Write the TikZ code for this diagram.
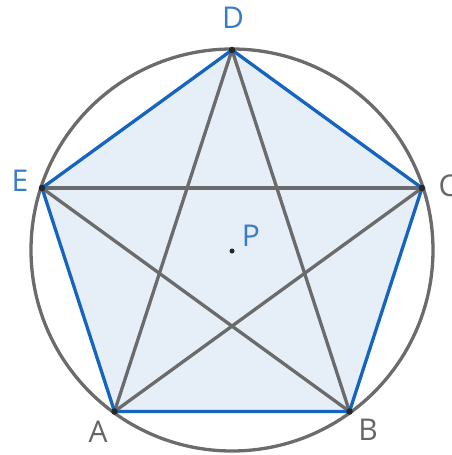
\documentclass[tikz,border=0pt]{standalone}
\usepackage{fontspec}
\setmainfont{Open Sans}
\definecolor{pblue}{HTML}{1565C0}
\definecolor{pfill}{HTML}{E6EEF8}
\definecolor{pgray}{HTML}{6B6B6B}
\definecolor{lgray}{HTML}{666666}
\begin{document}
\begin{tikzpicture}[x=1pt,y=-1pt,
  edge/.style={pblue,line width=3.3pt,line join=round},
  diag/.style={pgray,line width=3.3pt},
  vtx/.style={circle,fill=black!85,inner sep=0pt,minimum size=6.5pt},
  lblb/.style={text=pblue!85!white,font=\fontsize{30}{32}\selectfont,inner sep=0pt},
  lblg/.style={text=lgray,font=\fontsize{30}{32}\selectfont,inner sep=0pt}]
\useasboundingbox (0,0) rectangle (452,455);
\coordinate (O) at (232,250);
\coordinate (D) at (232,50);
\coordinate (E) at (42,188);
\coordinate (C) at (422,188);
\coordinate (A) at (114.5,411.5);
\coordinate (B) at (349.5,411.5);
\fill[pfill] (A) -- (B) -- (C) -- (D) -- (E) -- cycle;
\draw[pgray,line width=3.3pt] (O) circle (201);
\draw[diag] (E) -- (C);
\draw[diag] (E) -- (B);
\draw[diag] (A) -- (C);
\draw[diag] (A) -- (D);
\draw[diag] (D) -- (B);
\draw[edge] (A) -- (B) -- (C) -- (D) -- (E) -- cycle;
\node[vtx] (vA) at (A) {};
\node[vtx] (vB) at (B) {};
\node[vtx] (vC) at (C) {};
\node[vtx] (vD) at (D) {};
\node[vtx] (vE) at (E) {};
\node[circle,fill=black!85,inner sep=0pt,minimum size=5pt] (vP) at (232,251) {};
\node[lblb] (lD) at (233,18) {D};
\node[lblb] (lE) at (20,181) {E};
\node[lblg] (lC) at (448,186) {C};
\node[lblg] (lA) at (98,432) {A};
\node[lblg] (lB) at (368,430) {B};
\node[lblb] (lP) at (251,236) {P};
\end{tikzpicture}
\end{document}
